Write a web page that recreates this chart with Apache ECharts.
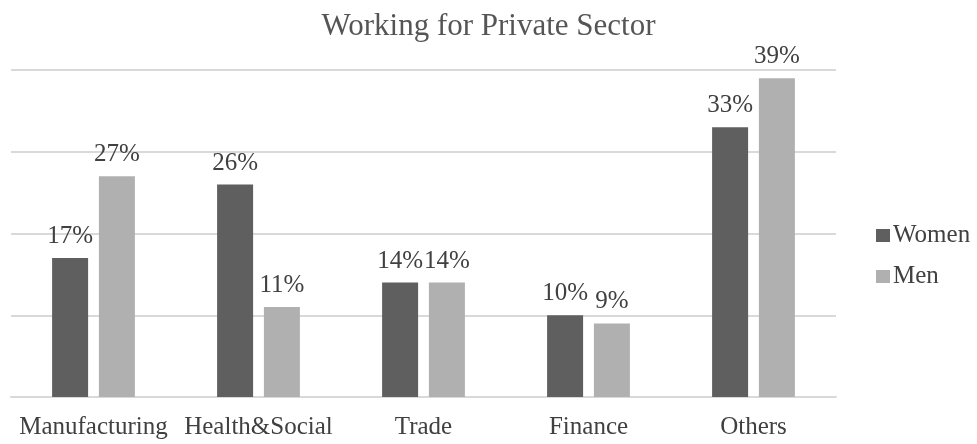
<!DOCTYPE html>
<html>
<head>
<meta charset="utf-8">
<script src="https://cdn.jsdelivr.net/npm/echarts@6/dist/echarts.min.js"></script>
<style>
  html, body { margin: 0; padding: 0; background: #fff; }
  #chart { width: 977px; height: 444px; }
</style>
</head>
<body>
<div id="chart"></div>
<script>
// Share of private-sector workers by industry, in percent
const categories = ['Manufacturing', 'Health&Social', 'Trade', 'Finance', 'Others'];
const women = [17, 26, 14, 10, 33];
const men = [27, 11, 14, 9, 39];
const seriesNames = ['Women', 'Men'];

const FONT = '"Liberation Serif", "DejaVu Serif", serif';
const TEXT = '#404040';

const chart = echarts.init(document.getElementById('chart'));

const labelStyle = {
  show: true,
  position: 'top',
  distance: 9,
  formatter: p => p.value + '%',
  fontFamily: FONT,
  fontSize: 25,
  color: TEXT
};

chart.setOption({
  animation: false,
  backgroundColor: '#ffffff',
  title: {
    text: 'Working for Private Sector',
    left: 'center',
    top: 6,
    textStyle: { fontFamily: FONT, fontSize: 31, fontWeight: 'normal', color: '#555555' }
  },
  legend: {
    orient: 'vertical',
    left: 871,
    top: 218,
    itemWidth: 14,
    itemHeight: 13,
    itemGap: 16,
    icon: 'rect',
    textStyle: { fontFamily: FONT, fontSize: 25, color: TEXT, padding: [0, 0, 0, -2] },
    data: seriesNames
  },
  grid: { left: 11, right: 141, top: 70, bottom: 47 },
  xAxis: {
    type: 'category',
    data: categories,
    axisLine: { show: true, lineStyle: { color: '#d9d9d9', width: 2 } },
    axisTick: { show: false },
    axisLabel: { fontFamily: FONT, fontSize: 25, color: TEXT, margin: 18, interval: 0 }
  },
  yAxis: {
    type: 'value',
    min: 0,
    max: 40,
    interval: 10,
    axisLabel: { show: false },
    axisLine: { show: false },
    axisTick: { show: false },
    splitLine: { lineStyle: { color: '#d9d9d9', width: 2 } }
  },
  series: [
    {
      name: seriesNames[0],
      type: 'bar',
      data: women,
      barWidth: 36,
      barGap: '30%',
      itemStyle: { color: '#5f5f5f' },
      label: labelStyle
    },
    {
      name: seriesNames[1],
      type: 'bar',
      data: men,
      barWidth: 36,
      barGap: '30%',
      itemStyle: { color: '#b0b0b0' },
      label: labelStyle
    }
  ]
});
</script>
</body>
</html>
